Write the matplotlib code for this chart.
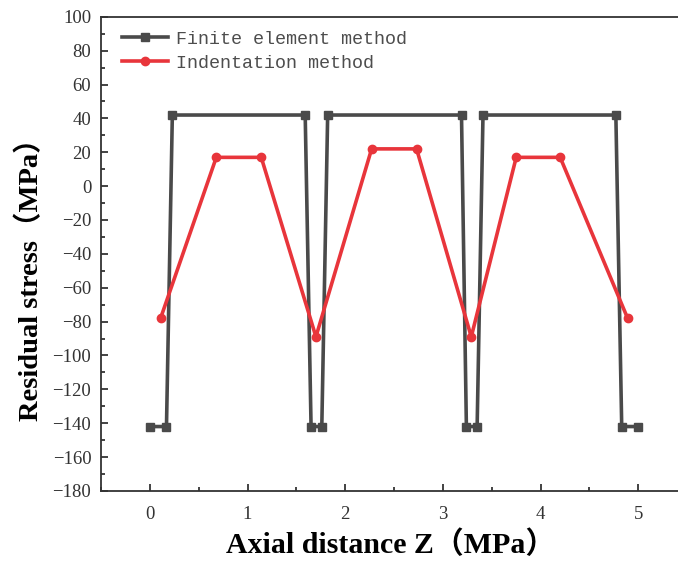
import matplotlib
matplotlib.use("Agg")
import matplotlib.pyplot as plt
from matplotlib.ticker import MultipleLocator

# Finite element method (grey squares)
fem_z = [0, 0.17, 0.23, 1.59, 1.65, 1.76, 1.82, 3.19, 3.24, 3.35, 3.41, 4.77, 4.83, 5.0]
fem_s = [-142, -142, 42, 42, -142, -142, 42, 42, -142, -142, 42, 42, -142, -142]

# Indentation method (red circles)
ind_z = [0.11, 0.68, 1.14, 1.70, 2.27, 2.73, 3.29, 3.75, 4.20, 4.89]
ind_s = [-78, 17, 17, -89, 22, 22, -89, 17, 17, -78]

fig = plt.figure(figsize=(6.78, 5.61), dpi=100)
ax = fig.add_axes([0.149, 0.125, 0.853, 0.845])

ax.plot(fem_z, fem_s, color="#4a4a4a", lw=2.6, marker="s", ms=5.5,
        label="Finite element method")
ax.plot(ind_z, ind_s, color="#e8353b", lw=2.6, marker="o", ms=6,
        label="Indentation method")

ax.set_xlim(-0.5, 5.42)
ax.set_ylim(-180, 100)
ax.xaxis.set_major_locator(MultipleLocator(1))
ax.xaxis.set_minor_locator(MultipleLocator(0.5))
ax.yaxis.set_major_locator(MultipleLocator(20))
ax.yaxis.set_minor_locator(MultipleLocator(10))
ax.tick_params(which="both", direction="in", top=False, right=False,
               colors="#222222", width=1.2)
ax.tick_params(which="major", length=5, labelsize=13.5, labelcolor="#333333")
ax.tick_params(axis="x", which="major", pad=11)
ax.tick_params(axis="y", which="major", pad=7)
ax.tick_params(which="minor", length=3)
for lab in ax.get_xticklabels() + ax.get_yticklabels():
    lab.set_family("Liberation Serif")
for sp in ax.spines.values():
    sp.set_linewidth(1.3)
    sp.set_color("#333333")

lab_font = ["Liberation Serif", "Noto Sans CJK SC"]
ax.set_xlabel("Axial distance Z（MPa）", family=lab_font, fontsize=21.5,
              fontweight="bold", labelpad=5)
ax.set_ylabel("Residual stress（MPa）", family=lab_font, fontsize=20.5,
              fontweight="bold")
ax.yaxis.set_label_coords(-0.098, 0.46)

leg = ax.legend(loc="upper left", frameon=False,
                prop={"family": "Liberation Mono", "size": 13.2},
                handlelength=2.5, handletextpad=0.45, labelspacing=0.38,
                borderaxespad=0.35, bbox_to_anchor=(0.013, 1.0))
for t in leg.get_texts():
    t.set_color("#4d4d4d")

fig.savefig("out.png", dpi=100)
